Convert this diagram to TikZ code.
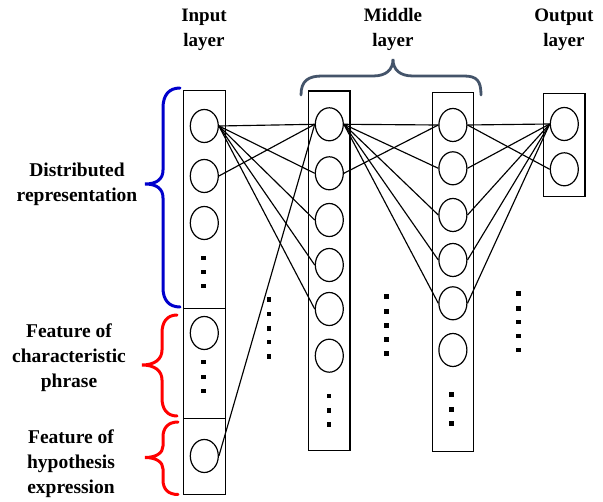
\documentclass[tikz,border=0pt]{standalone}
\usepackage{fontspec}
\setmainfont{Liberation Serif}
\usetikzlibrary{shapes.geometric}
\definecolor{braceblue}{RGB}{0,0,204}
\definecolor{bracered}{RGB}{255,0,0}
\definecolor{braceslate}{RGB}{68,84,106}
\begin{document}
\begin{tikzpicture}[x=1pt,y=-1pt,
 neuron/.style={draw, ellipse, minimum width=28pt, minimum height=33pt, inner sep=0pt, line width=1.2pt},
 colbox/.style={draw, line width=1.4pt},
 conn/.style={line width=1.15pt},
 sqdot/.style={fill=black, rectangle, minimum size=4.5pt, inner sep=0pt},
 lbl/.style={font=\bfseries\fontsize{19.5}{25}\selectfont, align=center, inner sep=0pt},
 toplbl/.style={font=\bfseries\fontsize{19}{25}\selectfont, align=center, inner sep=0pt},
 bluebrace/.style={draw=braceblue, line width=3pt, line cap=round},
 redbrace/.style={draw=bracered, line width=3pt, line cap=round},
 slatebrace/.style={draw=braceslate, line width=2.8pt, line cap=round},
]
\useasboundingbox (0,0) rectangle (603,502);

% column boxes
\draw[colbox] (183.5,90.5) rectangle (225.3,308.3);
\draw[colbox] (183.5,308.3) rectangle (225.3,418.3);
\draw[colbox] (183.5,418.3) rectangle (225.3,494.3);
\draw[colbox] (308.3,91) rectangle (350,450.7);
\draw[colbox] (432.3,92.7) rectangle (473.3,451.7);
\draw[colbox] (543.3,93.3) rectangle (585,196.7);

% input neurons
\node[neuron] (i1) at (204.3,126) {};
\node[neuron] (i2) at (204.3,176) {};
\node[neuron] (i3) at (204.3,223) {};
\node[neuron] (i4) at (204.3,333) {};
\node[neuron] (i5) at (204.3,456) {};

% middle layer 1
\foreach \n/\y in {1/124.3,2/173.3,3/220,4/265,5/309,6/355.7}
  \node[neuron] (a\n) at (329.3,\y) {};
% middle layer 2
\foreach \n/\y in {1/125,2/168.3,3/215,4/260,5/303.3,6/350}
  \node[neuron] (b\n) at (452.9,\y) {};
% output
\node[neuron] (o1) at (564.3,124) {};
\node[neuron] (o2) at (564.3,169.3) {};

% dots inside columns
\foreach \n/\y in {1/258,2/272,3/286}
  \node[sqdot] (di\n) at (203.5,\y) {};
\foreach \n/\y in {1/362,2/377,3/391}
  \node[sqdot] (dj\n) at (203.5,\y) {};
\foreach \n/\y in {1/396,2/410.7,3/424.7}
  \node[sqdot] (da\n) at (329,\y) {};
\foreach \n/\y in {1/394.7,2/409.3,3/423.3}
  \node[sqdot] (db\n) at (451.7,\y) {};
% dots between columns
\foreach \n/\y in {1/299.3,2/314,3/328.3,4/342,5/356.3}
  \node[sqdot] (dx\n) at (269,\y) {};
\foreach \n/\y in {1/296.7,2/311.7,3/325.7,4/339.7,5/353.7}
  \node[sqdot] (dy\n) at (386.7,\y) {};
\foreach \n/\y in {1/293.3,2/308.3,3/322,4/336,5/350}
  \node[sqdot] (dz\n) at (518.3,\y) {};

% connections input -> middle 1
\foreach \t in {1,...,5} \draw[conn] (i1.east) -- (a\t.west);
\draw[conn] (i2.east) -- (a1.west);
\draw[conn] (i5.east) -- (a1.west);
% middle 1 -> middle 2
\foreach \t in {1,...,5} \draw[conn] (a1.east) -- (b\t.west);
\draw[conn] (a2.east) -- (b1.west);
% middle 2 -> output
\draw[conn] (b1.east) -- (o1.west);
\draw[conn] (b1.east) -- (o2.west);
\foreach \s in {2,...,5} \draw[conn] (b\s.east) -- (o1.west);

% braces
\draw[bluebrace] (180,88) .. controls (169,88) and (163,95) .. (163,108) -- (163,170) .. controls (163,179) and (157,184) .. (145,184) .. controls (157,184) and (163,189) .. (163,198) -- (163,288) .. controls (163,300) and (169,307) .. (180,307);
\draw[redbrace] (177,315) .. controls (167,315) and (162,322) .. (162,333) -- (162,350) .. controls (162,359) and (155,365) .. (142,365) .. controls (155,365) and (162,371) .. (162,380) -- (162,398) .. controls (162,409) and (167,416) .. (177,416);
\draw[redbrace] (178,422) .. controls (168,422) and (163,428) .. (163,437) -- (163,446) .. controls (163,453) and (156,457.5) .. (145,457.5) .. controls (156,457.5) and (163,462) .. (163,469) -- (163,480) .. controls (163,489) and (168,494.5) .. (178,494.5);
\draw[slatebrace] (301,95) .. controls (301,81) and (308,76) .. (322,76) -- (373,76) .. controls (386,76) and (393,70) .. (393,59) .. controls (393,70) and (400,76) .. (413,76) -- (464,76) .. controls (477,76) and (481,81) .. (481,95);

% labels
\node[toplbl] (lin) at (204,29.5) {Input\\layer};
\node[toplbl] (lmid) at (393,29.5) {Middle\\layer};
\node[toplbl] (lout) at (564,29.5) {Output\\layer};
\node[lbl] (ldist) at (77,184) {Distributed\\representation};
\node[lbl] (lfeat) at (69,357.5) {Feature of\\characteristic\\phrase};
\node[lbl] (lhyp) at (71,463.5) {Feature of\\hypothesis\\expression};
\end{tikzpicture}
\end{document}
